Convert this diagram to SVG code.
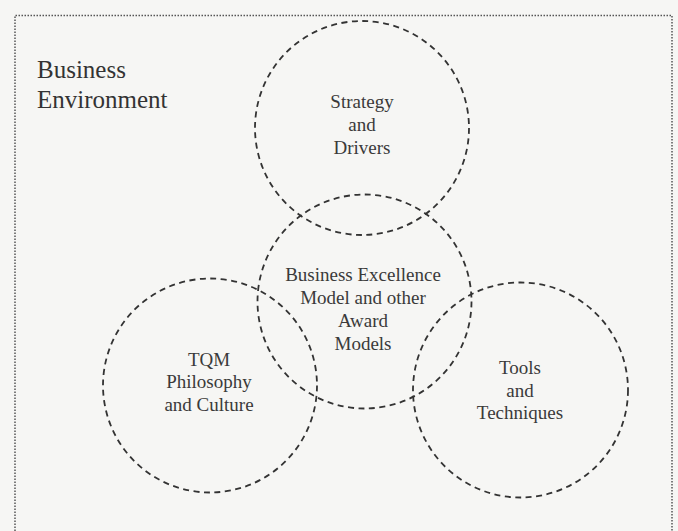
<svg xmlns="http://www.w3.org/2000/svg" width="678" height="531" viewBox="0 0 678 531">
  <style>
    .frame { fill: none; stroke: #555; stroke-width: 1.5; stroke-dasharray: 1.5 1.5; }
    .ring { fill: none; stroke: #333; stroke-width: 1.8; stroke-dasharray: 6 4.5; }
    text { font-family: 'Liberation Serif', 'DejaVu Serif', 'Times New Roman', Times, serif; }
    .label { font-size: 19px; fill: #3a3a3a; text-anchor: middle; }
    .title { font-size: 25px; fill: #333; }
  </style>
  <rect x="0" y="0" width="678" height="531" fill="#f6f6f4"/>

  <!-- outer business environment frame (open at the bottom) -->
  <g id="environment">
    <path class="frame" d="M15,540 V15.5 H672 V540"/>
    <text class="title" x="37" y="78" font-family="Liberation Serif">Business</text>
    <text class="title" x="37" y="108" font-family="Liberation Serif">Environment</text>
  </g>

  <g id="strategy" font-family="Liberation Serif">
    <circle class="ring" cx="362" cy="128" r="107"/>
    <text class="label" x="362" y="108">Strategy</text>
    <text class="label" x="362" y="131">and</text>
    <text class="label" x="362" y="154">Drivers</text>
  </g>

  <g id="excellence">
    <circle class="ring" cx="364.5" cy="301.5" r="107"/>
    <text class="label" x="363" y="281">Business Excellence</text>
    <text class="label" x="363" y="304">Model and other</text>
    <text class="label" x="363" y="327">Award</text>
    <text class="label" x="363" y="350">Models</text>
  </g>

  <g id="tqm">
    <circle class="ring" cx="210" cy="385.5" r="107"/>
    <text class="label" x="209" y="366">TQM</text>
    <text class="label" x="209" y="388">Philosophy</text>
    <text class="label" x="209" y="411">and Culture</text>
  </g>

  <g id="tools">
    <circle class="ring" cx="520.5" cy="390" r="107.5"/>
    <text class="label" x="520" y="374">Tools</text>
    <text class="label" x="520" y="397">and</text>
    <text class="label" x="520" y="419">Techniques</text>
  </g>

  <g id="connectors"></g>
</svg>
